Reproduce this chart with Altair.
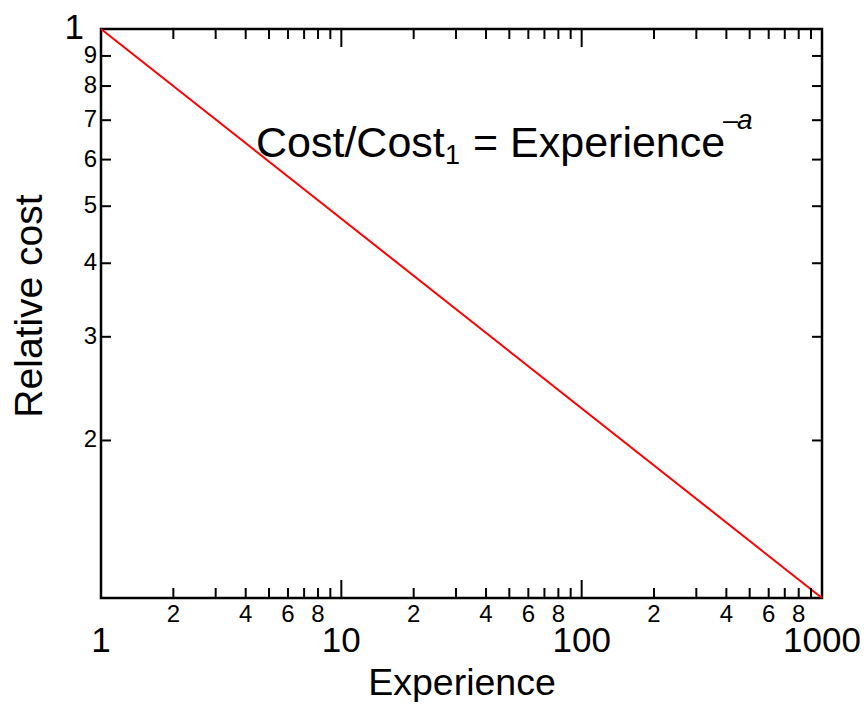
import altair as alt
import pandas as pd

# ---- data ----
experience = [1, 1000]
relative_cost = [1.0, 0.108]

x_minor_ticks = [2, 3, 4, 5, 6, 7, 8, 9, 20, 30, 40, 50, 60, 70, 80, 90,
                 200, 300, 400, 500, 600, 700, 800, 900]
x_major_ticks = [10, 100]
x_minor_label_values = [2, 4, 6, 8, 20, 40, 60, 80, 200, 400, 600, 800]
x_minor_label_text = ["2", "4", "6", "8", "2", "4", "6", "8", "2", "4", "6", "8"]
x_major_label_values = [1, 10, 100, 1000]
x_major_label_text = ["1", "10", "100", "1000"]

y_ticks = [0.2, 0.3, 0.4, 0.5, 0.6, 0.7, 0.8, 0.9]
y_label_values = [0.2, 0.3, 0.4, 0.5, 0.6, 0.7, 0.8, 0.9]
y_label_text = ["2", "3", "4", "5", "6", "7", "8", "9"]
y_major_label_values = [1.0]
y_major_label_text = ["1"]

W, H = 721, 569
FONT = "Liberation Sans, Arial, Helvetica, sans-serif"

xs = alt.Scale(type="log", domain=[1, 1000], nice=False)
ys = alt.Scale(type="log", domain=[0.108, 1], nice=False)

line_df = pd.DataFrame({"x": experience, "y": relative_cost})
xminor_df = pd.DataFrame({"x": x_minor_ticks})
xmajor_df = pd.DataFrame({"x": x_major_ticks})
xml_df = pd.DataFrame({"x": x_minor_label_values, "t": x_minor_label_text})
xMl_df = pd.DataFrame({"x": x_major_label_values, "t": x_major_label_text})
yt_df = pd.DataFrame({"y": y_ticks})
yl_df = pd.DataFrame({"y": y_label_values, "t": y_label_text})
yMl_df = pd.DataFrame({"y": y_major_label_values, "t": y_major_label_text})

X = lambda: alt.X("x:Q", scale=xs, axis=None)
Y = lambda: alt.Y("y:Q", scale=ys, axis=None)

line = alt.Chart(line_df).mark_line(color="#ff0000", strokeWidth=2).encode(x=X(), y=Y())

tick_style = dict(color="black", strokeWidth=2)
bot_minor = alt.Chart(xminor_df).mark_rule(**tick_style).encode(
    x=X(), y=alt.value(H), y2=alt.value(H - 10))
top_minor = alt.Chart(xminor_df).mark_rule(**tick_style).encode(
    x=X(), y=alt.value(0), y2=alt.value(10))
bot_major = alt.Chart(xmajor_df).mark_rule(**tick_style).encode(
    x=X(), y=alt.value(H), y2=alt.value(H - 18))
top_major = alt.Chart(xmajor_df).mark_rule(**tick_style).encode(
    x=X(), y=alt.value(0), y2=alt.value(18))
left_t = alt.Chart(yt_df).mark_rule(**tick_style).encode(
    y=Y(), x=alt.value(0), x2=alt.value(10))
right_t = alt.Chart(yt_df).mark_rule(**tick_style).encode(
    y=Y(), x=alt.value(W), x2=alt.value(W - 10))

xminor_lab = alt.Chart(xml_df).mark_text(
    font=FONT, fontSize=24, align="center", baseline="alphabetic", color="black"
).encode(x=X(), y=alt.value(H + 24), text="t:N")
xmajor_lab = alt.Chart(xMl_df).mark_text(
    font=FONT, fontSize=35, align="center", baseline="alphabetic", color="black"
).encode(x=X(), y=alt.value(H + 54), text="t:N")
y_lab = alt.Chart(yl_df).mark_text(
    font=FONT, fontSize=24, align="right", baseline="middle", color="black", dx=-4
).encode(y=Y(), x=alt.value(0), text="t:N")
y_major_lab = alt.Chart(yMl_df).mark_text(
    font=FONT, fontSize=35, align="right", baseline="alphabetic", color="black", dx=-17, dy=10
).encode(y=Y(), x=alt.value(0), text="t:N")

x_title = alt.Chart(pd.DataFrame({"t": ["Experience"]})).mark_text(
    font=FONT, fontSize=37.5, align="center", baseline="alphabetic", color="black"
).encode(x=alt.value(361), y=alt.value(H + 97), text="t:N")
y_title = alt.Chart(pd.DataFrame({"t": ["Relative cost"]})).mark_text(
    font=FONT, fontSize=39, align="center", baseline="alphabetic", color="black", angle=270
).encode(x=alt.value(-59), y=alt.value(277), text="t:N")

ann_main = alt.Chart(pd.DataFrame({"t": ["Cost/Cost"]})).mark_text(
    font=FONT, fontSize=43, align="left", baseline="alphabetic", color="black"
).encode(x=alt.value(155), y=alt.value(128), text="t:N")
ann_sub = alt.Chart(pd.DataFrame({"t": ["1"]})).mark_text(
    font=FONT, fontSize=27, align="left", baseline="alphabetic", color="black"
).encode(x=alt.value(344), y=alt.value(135), text="t:N")
ann_rest = alt.Chart(pd.DataFrame({"t": ["= Experience"]})).mark_text(
    font=FONT, fontSize=43, align="left", baseline="alphabetic", color="black"
).encode(x=alt.value(372), y=alt.value(128), text="t:N")
ann_sup_minus = alt.Chart(pd.DataFrame({"t": ["\u2013"]})).mark_text(
    font=FONT, fontSize=27, align="left", baseline="alphabetic", color="black"
).encode(x=alt.value(622), y=alt.value(100), text="t:N")
ann_sup_a = alt.Chart(pd.DataFrame({"t": ["a"]})).mark_text(
    font=FONT, fontSize=28, fontStyle="italic", align="left", baseline="alphabetic", color="black"
).encode(x=alt.value(636), y=alt.value(100), text="t:N")

chart = alt.layer(
    line, bot_minor, top_minor, bot_major, top_major, left_t, right_t,
    xminor_lab, xmajor_lab, y_lab, y_major_lab, x_title, y_title,
    ann_main, ann_sub, ann_rest, ann_sup_minus, ann_sup_a,
).properties(
    width=W, height=H,
    background="white",
    autosize=alt.AutoSizeParams(type="none"),
    padding={"left": 93, "top": 21, "right": 38, "bottom": 104},
).configure_view(
    stroke="black", strokeWidth=2.5
)

chart.save("out.html", embed_options={"renderer": "svg", "actions": False})
